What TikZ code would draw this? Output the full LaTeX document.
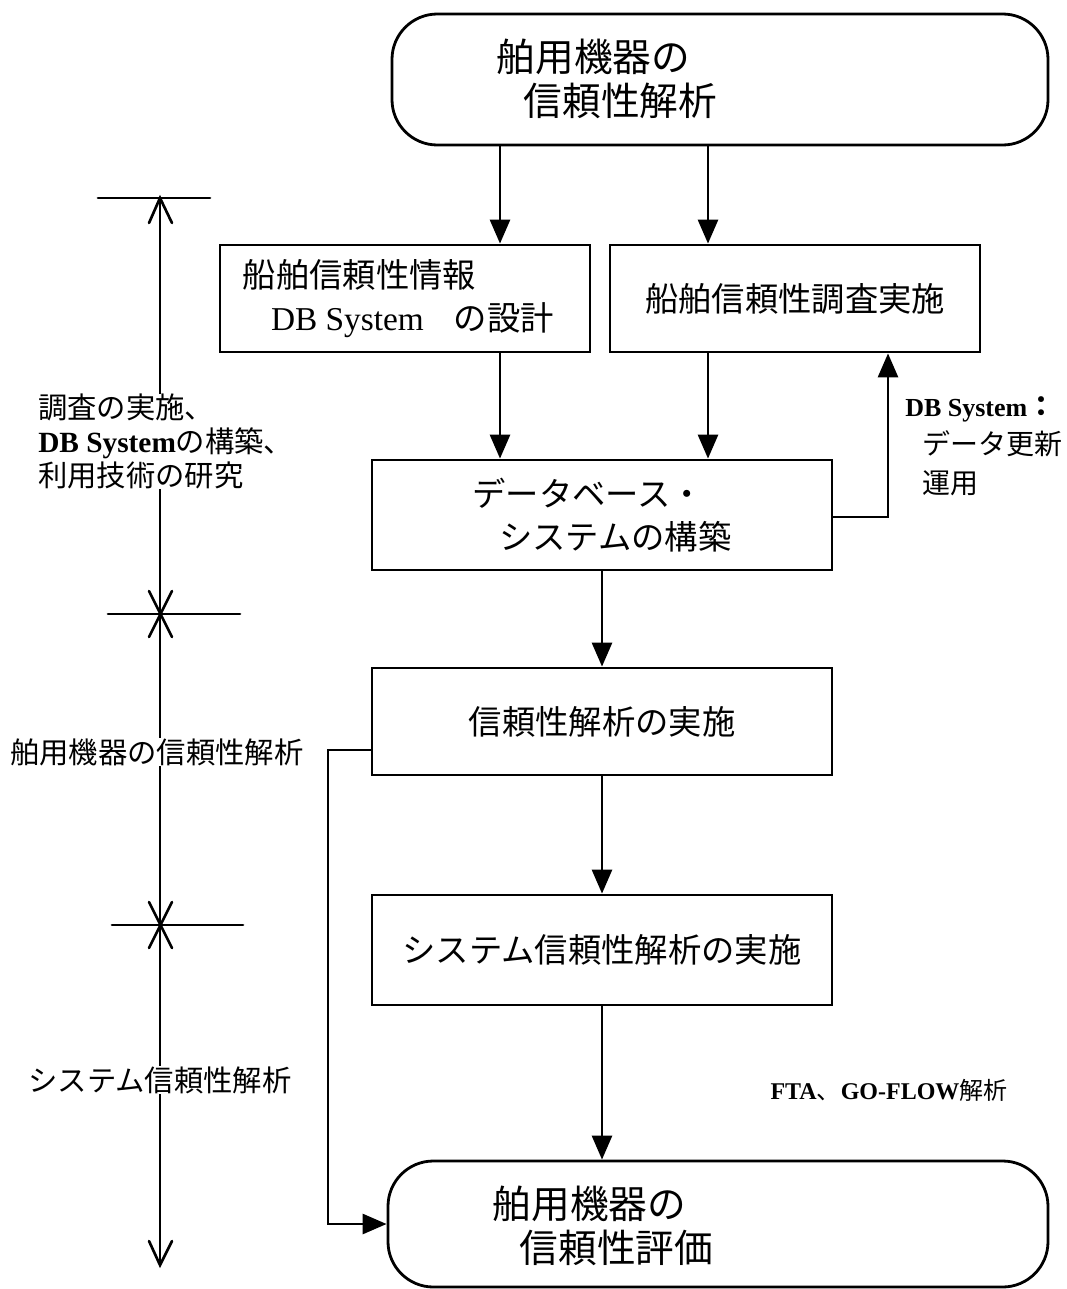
\documentclass[tikz,border=0pt]{standalone}
\usepackage{fontspec}
\setmainfont{Liberation Serif}
\newfontfamily\jp{Noto Sans CJK JP}
\usetikzlibrary{arrows.meta}
\begin{document}
\begin{tikzpicture}[x=0.75pt,y=-0.75pt,
  box/.style={draw,line width=2.1pt,inner sep=0pt,align=left,
    font=\jp\fontsize{25}{32}\selectfont},
  rbox/.style={draw,line width=2.1pt,inner sep=0pt,rounded corners=34pt},
  big/.style={inner sep=0pt,align=left,font=\jp\fontsize{29}{33}\selectfont},
  arr/.style={line width=2.1pt,-{Triangle[length=18pt,width=15pt]}},
  sc/.style={line width=2pt,line cap=round},
  lbl/.style={fill=white,inner sep=0pt,align=left,
    font=\jp\fontsize{22}{25.5}\selectfont}]
\useasboundingbox (0,0) rectangle (1067,1289);

% boxes
\node[rbox,minimum width=492pt,minimum height=98.25pt] (top) at (720,79.5) {};
\node[big] (toptext) at (607,79) {舶用機器の\\\hspace*{0.7em}信頼性解析};

\node[box,minimum width=277.5pt,minimum height=80.25pt] (b1) at (405,298.5)
  {\hspace*{-0.4em}船舶信頼性情報\\\hspace*{0.45em}{\rmfamily DB System}\hspace{0.9em}の設計};
\node[box,minimum width=277.5pt,minimum height=80.25pt] (b2) at (795,298.5)
  {船舶信頼性調査実施};
\node[box,minimum width=345pt,minimum height=82.5pt] (b3) at (602,515)
  {データベース・\\\hspace*{0.8em}システムの構築};
\node[box,minimum width=345pt,minimum height=80.25pt] (b4) at (602,721.5)
  {信頼性解析の実施};
\node[box,minimum width=345pt,minimum height=82.5pt] (b5) at (602,950)
  {システム信頼性解析の実施};

\node[rbox,minimum width=495pt,minimum height=94.5pt] (bot) at (718,1224) {};
\node[big] (bottext) at (603,1226) {舶用機器の\\\hspace*{0.7em}信頼性評価};

% helper coordinates
\coordinate (xa) at (500,0);
\coordinate (xb) at (708,0);
\coordinate (fb) at (888,517);
\coordinate (fw) at (328,750);

% connectors
\draw[arr] (top.south -| xa) -- (b1.north -| xa);
\draw[arr] (top.south -| xb) -- (b2.north -| xb);
\draw[arr] (b1.south -| xa) -- (b3.north -| xa);
\draw[arr] (b2.south -| xb) -- (b3.north -| xb);
\draw[arr] (b3.east |- fb) -- (fb) -- (b2.south -| fb);
\draw[arr] (b3.south) -- (b4.north);
\draw[arr] (b4.south) -- (b5.north);
\draw[arr] (b5.south) -- (bot.north -| b5.south);
\draw[arr] (b4.west |- fw) -- (fw) |- (bot.west);

% side labels
\node[inner sep=0pt,align=left,anchor=north west,
  font=\jp\fontsize{21}{29}\selectfont] (rl) at (905,396)
  {{\rmfamily\bfseries\fontsize{19.5}{29}\selectfont DB System}{\bfseries ：}\\\hspace*{0.6em}データ更新\\\hspace*{0.6em}運用};
\node[inner sep=0pt,font=\fontsize{18}{22}\selectfont] (fta) at (889,1090)
  {{\bfseries FTA}{\jp 、}{\bfseries GO-FLOW}{\jp 解析}};

% left scale
\coordinate (s0) at (160,198);
\coordinate (s1) at (160,614);
\coordinate (s2) at (160,925);
\coordinate (s3) at (160,1265);
\draw[sc] (s0) -- (s3);
\draw[sc] (98,198) -- (210,198);
\draw[sc] (149,223) -- (s0) -- (172,223);
\draw[sc] (108,614) -- (240,614);
\draw[sc] (149,591) -- (172,637);
\draw[sc] (172,591) -- (149,637);
\draw[sc] (112,925) -- (243,925);
\draw[sc] (149,902) -- (172,948);
\draw[sc] (172,902) -- (149,948);
\draw[sc] (149,1241) -- (s3) -- (172,1241);

\node[lbl,anchor=north west] (l1) at (38,394)
  {調査の実施、\\{\rmfamily\bfseries DB System}の構築、\\利用技術の研究};
\node[lbl] (l2) at (157,752) {舶用機器の信頼性解析};
\node[lbl] (l3) at (160,1080) {システム信頼性解析};
\end{tikzpicture}
\end{document}
